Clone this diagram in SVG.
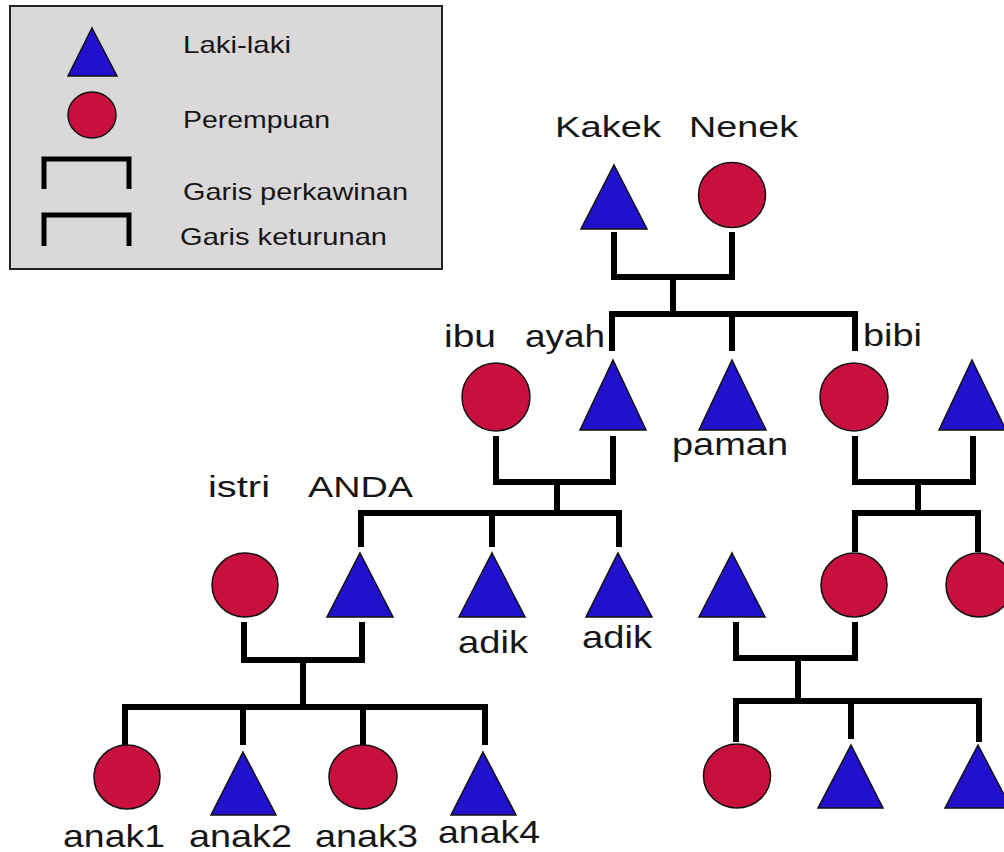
<svg xmlns="http://www.w3.org/2000/svg" width="1004" height="852" viewBox="0 0 1004 852">
<style>
.m{fill:#2211cc;stroke:#111;stroke-width:1.5;stroke-linejoin:miter}
.f{fill:#c8103e;stroke:#111;stroke-width:1.5}
.c{fill:none;stroke:#000;stroke-width:6;stroke-linejoin:miter;stroke-linecap:butt}
.lg{fill:none;stroke:#000;stroke-width:5}
text{font-family:"Liberation Sans",Arial,sans-serif;fill:#161616}
.t1{font-size:29px}
.t2{font-size:32px}
.t3{font-size:24px}
</style>
<rect width="1004" height="852" fill="#fff"/>
<g id="legend">
<rect x="10" y="6" width="432" height="263" fill="#dbd8d9" stroke="#222" stroke-width="2"/>
<polygon class="m" points="92,28 117,76 68,76"/>
<ellipse class="f" cx="92" cy="115" rx="24" ry="23"/>
<path class="lg" d="M44,189 V159 H129 V189"/>
<path class="lg" d="M44,246 V215 H129 V246"/>
<text class="t3" x="183" y="53" textLength="108" lengthAdjust="spacingAndGlyphs">Laki-laki</text>
<text class="t3" x="183" y="128" textLength="147" lengthAdjust="spacingAndGlyphs">Perempuan</text>
<text class="t3" x="183" y="200" textLength="225" lengthAdjust="spacingAndGlyphs">Garis perkawinan</text>
<text class="t3" x="180" y="245" textLength="207" lengthAdjust="spacingAndGlyphs">Garis keturunan</text>
</g>
<g id="connectors">
<path class="c" d="M614,232 V277 H732 V232 M673,277 V314"/>
<path class="c" d="M612,351 V314 H855 V351 M732,314 V351"/>
<path class="c" d="M496,436 V482 H613 V436 M557,482 V513"/>
<path class="c" d="M361,547 V513 H619 V547 M492,513 V547"/>
<path class="c" d="M855,436 V482 H973 V436 M918,482 V513"/>
<path class="c" d="M855,552 V513 H978 V552"/>
<path class="c" d="M244,622 V660 H362 V622 M303,660 V707"/>
<path class="c" d="M125,745 V707 H485 V745 M243,707 V745 M363,707 V745"/>
<path class="c" d="M736,622 V658 H855 V622 M798,658 V701"/>
<path class="c" d="M736,742 V701 H979 V742 M851,701 V739"/>
</g>
<g id="kakek"><polygon class="m" points="614,165 647,229 581,229"/><text class="t1" x="555" y="137" textLength="106" lengthAdjust="spacingAndGlyphs">Kakek</text></g>
<g id="nenek"><ellipse class="f" cx="732" cy="195" rx="33.5" ry="32.5"/><text class="t1" x="689" y="137" textLength="109" lengthAdjust="spacingAndGlyphs">Nenek</text></g>
<g id="ibu"><ellipse class="f" cx="496" cy="397" rx="34" ry="34"/><text class="t2" x="444" y="347" textLength="52" lengthAdjust="spacingAndGlyphs">ibu</text></g>
<g id="ayah"><polygon class="m" points="613,360 646,430 580,430"/><text class="t2" x="525" y="347" textLength="80" lengthAdjust="spacingAndGlyphs">ayah</text></g>
<g id="paman"><polygon class="m" points="732,360 766,430 699,430"/><text class="t2" x="672" y="455" textLength="116" lengthAdjust="spacingAndGlyphs">paman</text></g>
<g id="bibi"><ellipse class="f" cx="854" cy="397" rx="34" ry="34"/><text class="t2" x="863" y="346" textLength="59" lengthAdjust="spacingAndGlyphs">bibi</text></g>
<g id="suami-bibi"><polygon class="m" points="972,360 1006,430 939,430"/></g>
<g id="istri"><ellipse class="f" cx="245" cy="585" rx="33" ry="32"/><text class="t1" x="208" y="497" textLength="62" lengthAdjust="spacingAndGlyphs">istri</text></g>
<g id="anda"><polygon class="m" points="360,553 393,617 327,617"/><text class="t1" x="308" y="497" textLength="105" lengthAdjust="spacingAndGlyphs">ANDA</text></g>
<g id="adik1"><polygon class="m" points="492,553 525,617 459,617"/><text class="t2" x="458" y="653" textLength="70" lengthAdjust="spacingAndGlyphs">adik</text></g>
<g id="adik2"><polygon class="m" points="618,553 652,617 586,617"/><text class="t2" x="582" y="648" textLength="70" lengthAdjust="spacingAndGlyphs">adik</text></g>
<g id="sepupu-suami"><polygon class="m" points="732,553 765,617 699,617"/></g>
<g id="sepupu1"><ellipse class="f" cx="854" cy="585" rx="33" ry="32"/></g>
<g id="sepupu2"><ellipse class="f" cx="979" cy="585" rx="33" ry="32"/></g>
<g id="anak1"><ellipse class="f" cx="127" cy="777" rx="33" ry="32"/><text class="t2" x="63" y="847" textLength="102" lengthAdjust="spacingAndGlyphs">anak1</text></g>
<g id="anak2"><polygon class="m" points="243,752 276,815 211,815"/><text class="t2" x="189" y="847" textLength="103" lengthAdjust="spacingAndGlyphs">anak2</text></g>
<g id="anak3"><ellipse class="f" cx="363" cy="777" rx="34" ry="32"/><text class="t2" x="315" y="847" textLength="103" lengthAdjust="spacingAndGlyphs">anak3</text></g>
<g id="anak4"><polygon class="m" points="483,752 516,815 451,815"/><text class="t2" x="438" y="843" textLength="102" lengthAdjust="spacingAndGlyphs">anak4</text></g>
<g id="cucu1"><ellipse class="f" cx="737" cy="776" rx="33.5" ry="32"/></g>
<g id="cucu2"><polygon class="m" points="851,745 883,808 818,808"/></g>
<g id="cucu3"><polygon class="m" points="978,745 1011,808 945,808"/></g>
</svg>
